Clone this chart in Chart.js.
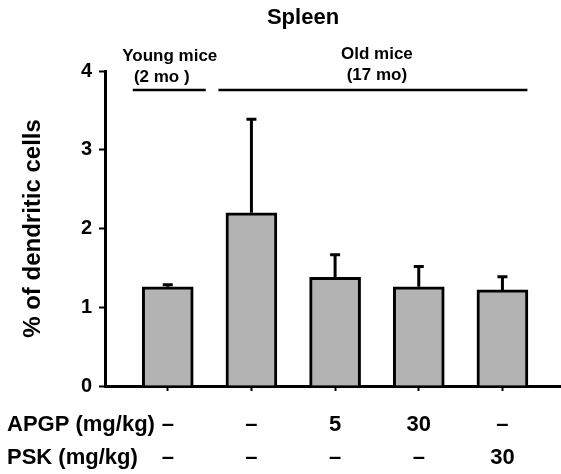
<!DOCTYPE html>
<html>
<head>
<meta charset="utf-8">
<script src="https://cdn.jsdelivr.net/npm/chart.js@4.4.1/dist/chart.umd.min.js"></script>
<style>
  body { margin: 0; background: #fff; }
  .wrap { width: 561px; height: 474px; }
</style>
</head>
<body>
<div class="wrap"><canvas id="chart"></canvas></div>
<script>
// values
const apgpDose = ['–', '–', '5', '30', '–']
const pskDose = ['–', '–', '–', '–', '30']
const means = [1.26, 2.20, 1.38, 1.26, 1.22]
const errors = [0.04, 1.20, 0.30, 0.27, 0.18]
const yTicks = [0, 1, 2, 3, 4]
const rowLabels = ['APGP (mg/kg)', 'PSK (mg/kg)']
const youngLabel = ['Young mice', '(2 mo )']
const oldLabel = ['Old mice', '(17 mo)']

const FONT = "'Liberation Sans', Arial, sans-serif"

const annotate = {
    id: 'annotate',
    afterDatasetsDraw(chart) {
        const ctx = chart.ctx
        const x = chart.scales.x
        const y = chart.scales.y

        // error bars, upper only
        ctx.save()
        ctx.strokeStyle = '#000'
        ctx.lineWidth = 3
        means.forEach((m, i) => {
            const px = x.getPixelForValue(i)
            const y0 = y.getPixelForValue(m)
            const y1 = y.getPixelForValue(m + errors[i])
            ctx.beginPath()
            ctx.moveTo(px, y0)
            ctx.lineTo(px, y1)
            ctx.moveTo(px - 5, y1 + 1)
            ctx.lineTo(px + 5, y1 + 1)
            ctx.stroke()
        })
        ctx.restore()
    },
    afterDraw(chart) {
        const ctx = chart.ctx
        const x = chart.scales.x
        ctx.save()
        ctx.fillStyle = '#000'
        ctx.strokeStyle = '#000'
        ctx.textBaseline = 'middle'

        ctx.font = 'bold 22px ' + FONT
        ctx.textAlign = 'center'
        ctx.fillText('Spleen', 303, 18)

        // group brackets
        const yc = x.getPixelForValue(0)
        const oa = x.getPixelForValue(1)
        const ob = x.getPixelForValue(means.length - 1)
        ctx.lineWidth = 2.5
        ctx.beginPath()
        ctx.moveTo(yc - 35, 90)
        ctx.lineTo(yc + 38, 90)
        ctx.moveTo(oa - 33, 90)
        ctx.lineTo(ob + 25, 90)
        ctx.stroke()

        ctx.font = 'bold 17px ' + FONT
        ctx.fillText(youngLabel[0], yc + 2, 56)
        ctx.fillText(youngLabel[1], yc - 6, 77)
        const oc = (oa - 33 + ob + 25) / 2
        ctx.fillText(oldLabel[0], oc + 4, 54)
        ctx.fillText(oldLabel[1], oc + 4, 75)

        // dose row headings
        ctx.font = 'bold 22px ' + FONT
        ctx.textAlign = 'left'
        ctx.fillText(rowLabels[0], 7, 425)
        ctx.fillText(rowLabels[1], 7, 458)
        ctx.restore()
    }
}

new Chart(document.getElementById('chart'), {
    type: 'bar',
    data: {
        datasets: [{
            data: means.map((m, i) => ({ x: i, y: m })),
            backgroundColor: '#b3b3b3',
            borderColor: '#000',
            borderWidth: 3,
            barThickness: 51
        }]
    },
    options: {
        responsive: true,
        maintainAspectRatio: false,
        animation: false,
        layout: { padding: { top: 71, left: 0, right: 0, bottom: 0 } },
        plugins: {
            legend: { display: false },
            tooltip: { enabled: false }
        },
        scales: {
            x: {
                type: 'linear',
                offset: false,
                min: -0.75,
                max: 4.7,
                afterBuildTicks: (s) => { s.ticks = apgpDose.map((d, i) => ({ value: i })) },
                afterFit: (s) => { s.height = 88 },
                border: { display: true, color: '#000', width: 3 },
                grid: { display: true, offset: false, drawOnChartArea: false, tickLength: 5, tickWidth: 2, tickColor: '#000' },
                ticks: {
                    autoSkip: false,
                    maxRotation: 0,
                    padding: 17,
                    color: '#000',
                    font: { family: FONT, size: 22, weight: 'bold', lineHeight: 1.5 },
                    callback: (v) => [apgpDose[v], pskDose[v]]
                }
            },
            y: {
                min: 0,
                max: 4,
                afterBuildTicks: (s) => { s.ticks = yTicks.map(v => ({ value: v })) },
                afterFit: (s) => { s.width = 105 },
                border: { display: true, color: '#000', width: 3 },
                grid: { display: true, drawOnChartArea: false, tickLength: 6, tickWidth: 2, tickColor: '#000' },
                ticks: {
                    padding: 7,
                    color: '#000',
                    font: { family: FONT, size: 20, weight: 'bold' }
                },
                title: {
                    display: true,
                    text: '% of dendritic cells',
                    color: '#000',
                    padding: { top: 19, bottom: 0 },
                    font: { family: FONT, size: 24, weight: 'bold' }
                }
            }
        }
    },
    plugins: [annotate]
})
</script>
</body>
</html>
